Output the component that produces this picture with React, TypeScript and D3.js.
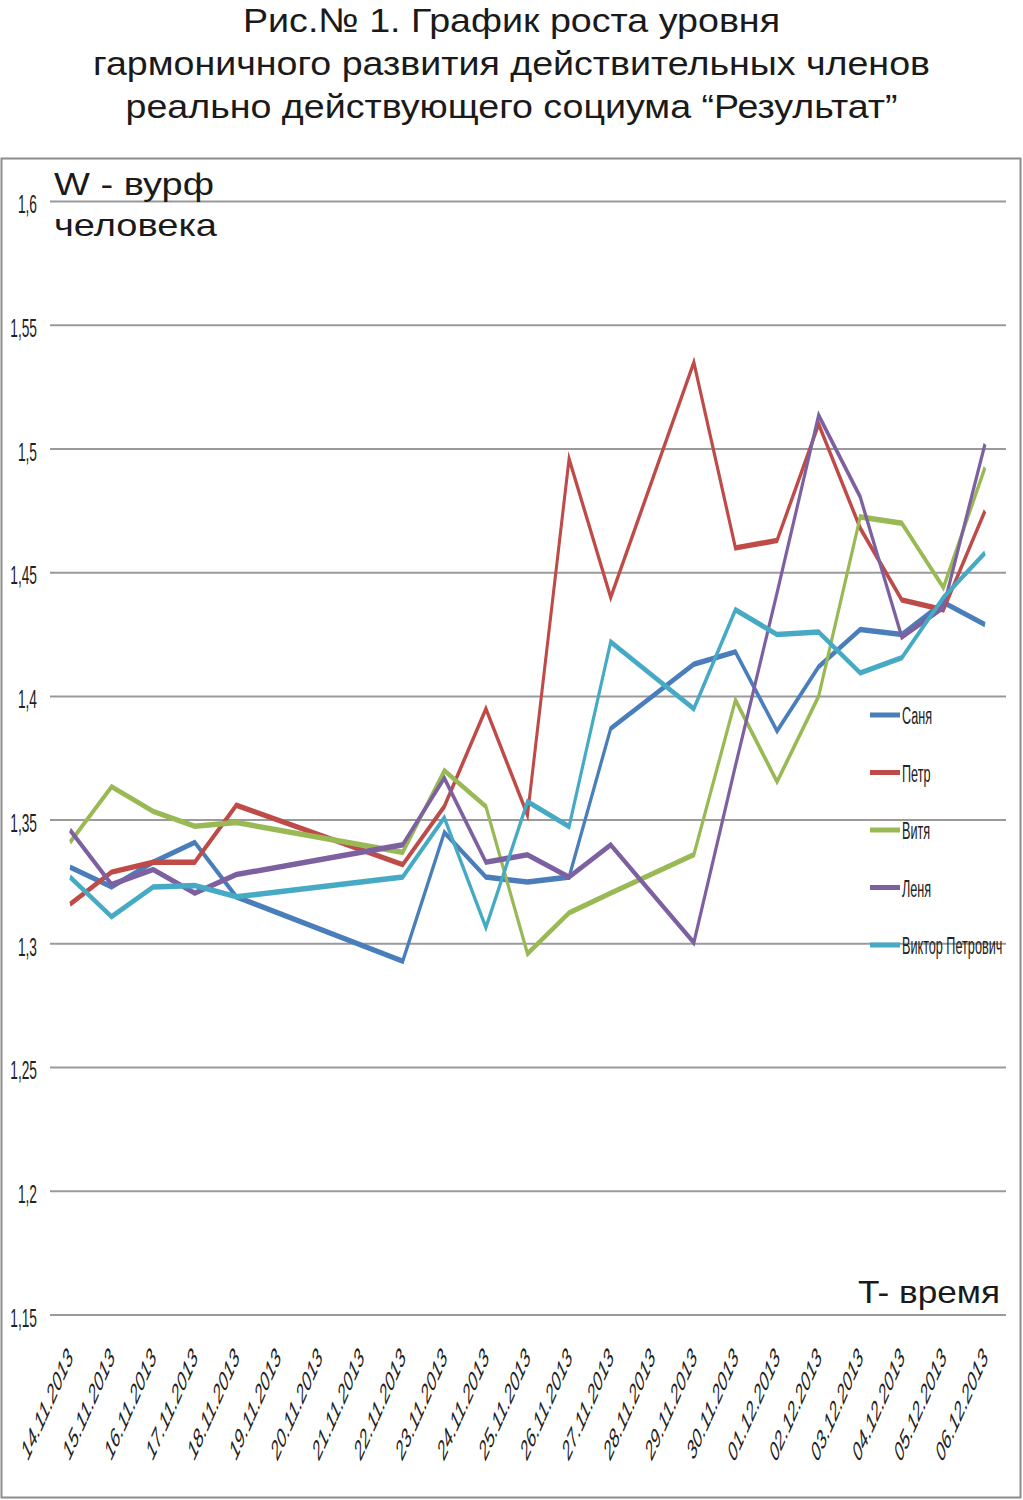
import React from "react";
import * as d3 from "d3";

const dates = [
  "14.11.2013", "15.11.2013", "16.11.2013", "17.11.2013", "18.11.2013", "19.11.2013",
  "20.11.2013", "21.11.2013", "22.11.2013", "23.11.2013", "24.11.2013", "25.11.2013",
  "26.11.2013", "27.11.2013", "28.11.2013", "29.11.2013", "30.11.2013", "01.12.2013",
  "02.12.2013", "03.12.2013", "04.12.2013", "05.12.2013", "06.12.2013",
];

const sanya = [1.331, 1.323, 1.333, 1.341, 1.319, null, null, null, 1.293, 1.345, 1.327, 1.325, 1.327, 1.387, null, 1.413, 1.418, 1.386, 1.412, 1.427, 1.425, 1.438, 1.429];
const petr = [1.316, 1.329, 1.333, 1.333, 1.356, null, null, null, 1.332, 1.3555, 1.395, 1.352, 1.496, 1.44, null, 1.535, 1.46, 1.463, 1.51, 1.468, 1.439, 1.435, 1.475];
const vitya = [1.341, 1.3635, 1.3535, 1.3475, 1.349, null, null, null, 1.337, 1.37, 1.3555, 1.296, 1.3125, 1.3205, null, 1.336, 1.3985, 1.3655, 1.4, 1.4725, 1.47, 1.444, 1.4925];
const lenya = [1.346, 1.324, 1.33, 1.3205, 1.328, null, null, null, 1.34, 1.367, 1.333, 1.336, 1.327, 1.34, null, 1.3005, 1.372, 1.4418, 1.5136, 1.4806, 1.424, 1.436, 1.502];
const viktor = [1.327, 1.311, 1.323, 1.3236, 1.319, null, null, null, 1.327, 1.351, 1.3066, 1.3575, 1.3474, 1.422, null, 1.395, 1.435, 1.425, 1.426, 1.4095, 1.4156, 1.44, 1.458];

const seriesNames = ["Саня", "Петр", "Витя", "Леня", "Виктор Петрович"];
const seriesValues = [sanya, petr, vitya, lenya, viktor];
const seriesColors = ["#4a7ebb", "#be4b48", "#98b954", "#7d60a0", "#46aac5"];

const yTicks = [1.15, 1.2, 1.25, 1.3, 1.35, 1.4, 1.45, 1.5, 1.55, 1.6];

const titleLines = [
  "Рис.№ 1. График роста уровня",
  "гармоничного развития действительных членов",
  "реально действующего социума “Результат”",
];

const SX = 0.55; // horizontal squeeze of the chart image

export default function App() {
  const x = d3.scalePoint<string>().domain(dates).range([70 / SX, 985 / SX]);
  const y = d3.scaleLinear().domain([1.15, 1.6]).range([1315, 201.5]);
  const fmt = (v: number) => String(+v.toFixed(2)).replace(".", ",");

  const line = d3
    .line<{ d: string; v: number }>()
    .x((p) => x(p.d) as number)
    .y((p) => y(p.v));

  const titleW = [537, 837, 772];
  const titleY = [32, 75, 118];

  return (
    <svg
      width={1023}
      height={1500}
      style={{ position: "absolute", left: 0, top: 0, background: "#fff" }}
      fontFamily="'Liberation Sans', Arial, sans-serif"
    >
      {titleLines.map((t, i) => (
        <text
          key={t}
          x={511.5}
          y={titleY[i]}
          textAnchor="middle"
          fontSize={34}
          fill="#1a1a1a"
          textLength={titleW[i]}
          lengthAdjust="spacingAndGlyphs"
        >
          {t}
        </text>
      ))}
      <rect x={1.5} y={158.5} width={1019} height={1339} fill="none" stroke="#8c8c8c" strokeWidth={2} />

      <g transform={`scale(${SX},1)`}>
        {yTicks.map((t) => (
          <g key={t}>
            <line x1={50 / SX} x2={1006 / SX} y1={y(t)} y2={y(t)} stroke="#9a9a9a" strokeWidth={2} />
            <text
              x={37 / SX}
              y={y(t) + 3}
              textAnchor="end"
              dominantBaseline="central"
              fontSize={25}
              fill="#222"
            >
              {fmt(t)}
            </text>
          </g>
        ))}

        {seriesValues.map((vals, si) => {
          const pts = dates
            .map((d, i) => ({ d, v: vals[i] as number | null }))
            .filter((p) => p.v != null) as { d: string; v: number }[];
          return (
            <path
              key={seriesNames[si]}
              d={line(pts) || ""}
              fill="none"
              stroke={seriesColors[si]}
              strokeWidth={5.5}
              strokeLinejoin="miter"
            />
          );
        })}

        {dates.map((d) => (
          <text
            key={d}
            transform={`translate(${(x(d) as number) + 4 / SX},1358) rotate(-51)`}
            textAnchor="end"
            fontSize={27}
            fontStyle="italic"
            fill="#222"
          >
            {d}
          </text>
        ))}

        {seriesNames.map((n, i) => {
          const ly = 715 + i * 57.5;
          return (
            <g key={n}>
              <line x1={870 / SX} x2={900 / SX} y1={ly} y2={ly} stroke={seriesColors[i]} strokeWidth={5} />
              <text x={902 / SX} y={ly + 1} dominantBaseline="central" fontSize={23} fill="#222">
                {n}
              </text>
            </g>
          );
        })}
      </g>

      <text x={54} y={195} fontSize={32} fill="#1a1a1a" textLength={160} lengthAdjust="spacingAndGlyphs">
        W - вурф
      </text>
      <text x={54} y={236} fontSize={32} fill="#1a1a1a" textLength={163} lengthAdjust="spacingAndGlyphs">
        человека
      </text>
      <text x={858} y={1303} fontSize={32} fill="#1a1a1a" textLength={142} lengthAdjust="spacingAndGlyphs">
        T- время
      </text>
    </svg>
  );
}
